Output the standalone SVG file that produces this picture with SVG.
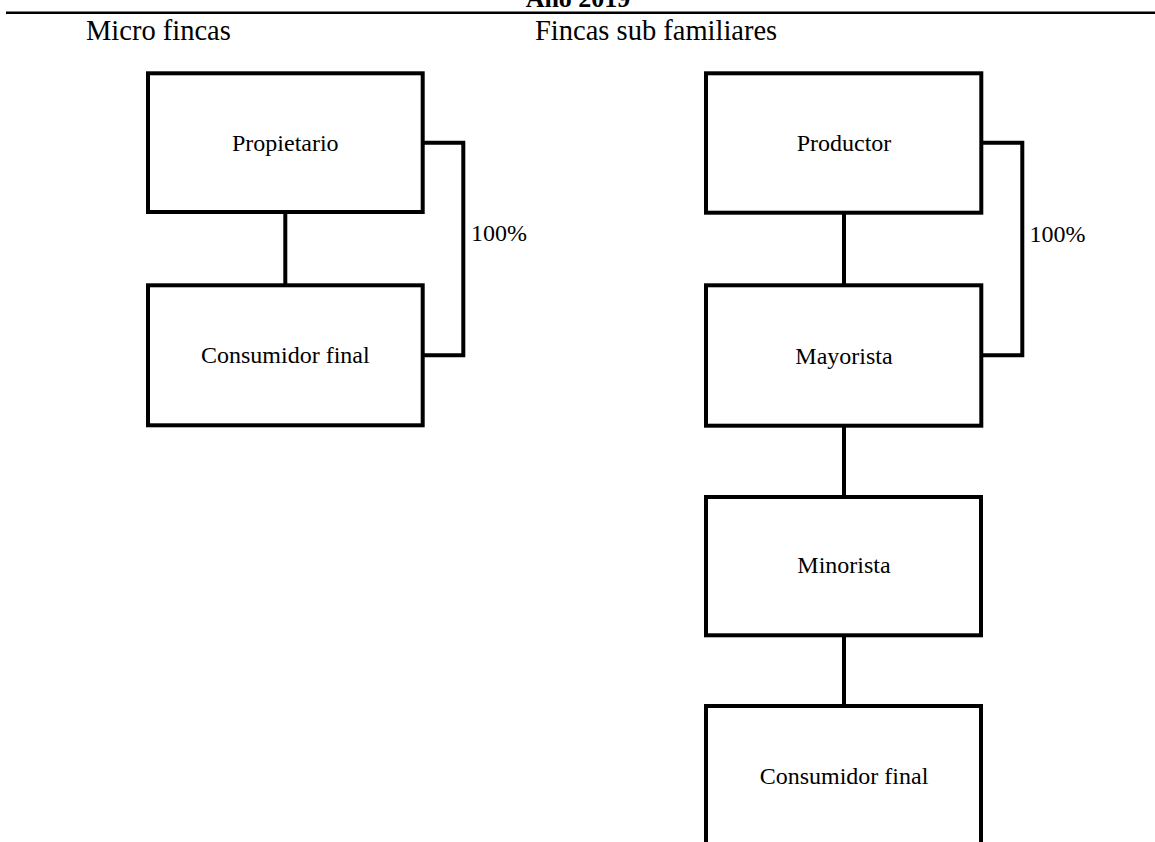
<svg xmlns="http://www.w3.org/2000/svg" width="1155" height="842" viewBox="0 0 1155 842">
<style>
.box{fill:#fff;stroke:#000;stroke-width:4}
.ln{fill:none;stroke:#000;stroke-width:4}
.t{font-family:"Liberation Serif","Times New Roman",serif;font-size:24px;fill:#000;text-anchor:middle}
.h{font-family:"Liberation Serif","Times New Roman",serif;font-size:28.5px;fill:#000}
.p{font-family:"Liberation Serif","Times New Roman",serif;font-size:24px;fill:#000}
</style>
<rect width="1155" height="842" fill="#fff"/>
<g id="header">
<text x="578" y="7" class="h" style="font-weight:bold;font-size:26px" text-anchor="middle">Año 2019</text>
<line x1="6" y1="12.7" x2="1155" y2="12.7" stroke="#000" stroke-width="2.6"/>
<text x="86" y="40" class="h">Micro fincas</text>
<text x="535" y="40" class="h">Fincas sub familiares</text>
</g>
<g id="connectors">
<line class="ln" x1="285.3" y1="212" x2="285.3" y2="285.3"/>
<polyline class="ln" points="422.7,142.7 463.3,142.7 463.3,355.3 422.7,355.3"/>
<line class="ln" x1="844" y1="212.7" x2="844" y2="285.3"/>
<line class="ln" x1="844" y1="425.7" x2="844" y2="497"/>
<line class="ln" x1="844" y1="635.3" x2="844" y2="706"/>
<polyline class="ln" points="981.3,142.7 1022.3,142.7 1022.3,355.3 981.3,355.3"/>
<text x="471" y="241" class="p">100%</text>
<text x="1029.5" y="242" class="p">100%</text>
</g>
<g id="propietario">
<rect class="box" x="148" y="73.3" width="274.7" height="138.7"/>
<text class="t" x="285.3" y="151">Propietario</text>
</g>
<g id="consumidor1">
<rect class="box" x="148" y="285.3" width="274.7" height="140"/>
<text class="t" x="285.3" y="363">Consumidor final</text>
</g>
<g id="productor">
<rect class="box" x="706" y="73.3" width="275.3" height="139.4"/>
<text class="t" x="844" y="151">Productor</text>
</g>
<g id="mayorista">
<rect class="box" x="706" y="285.3" width="275.3" height="140.4"/>
<text class="t" x="844" y="364">Mayorista</text>
</g>
<g id="minorista">
<rect class="box" x="706" y="497" width="275" height="138.3"/>
<text class="t" x="844" y="573.3">Minorista</text>
</g>
<g id="consumidor2">
<rect class="box" x="706" y="706" width="275" height="142"/>
<text class="t" x="844" y="784">Consumidor final</text>
</g>
</svg>
